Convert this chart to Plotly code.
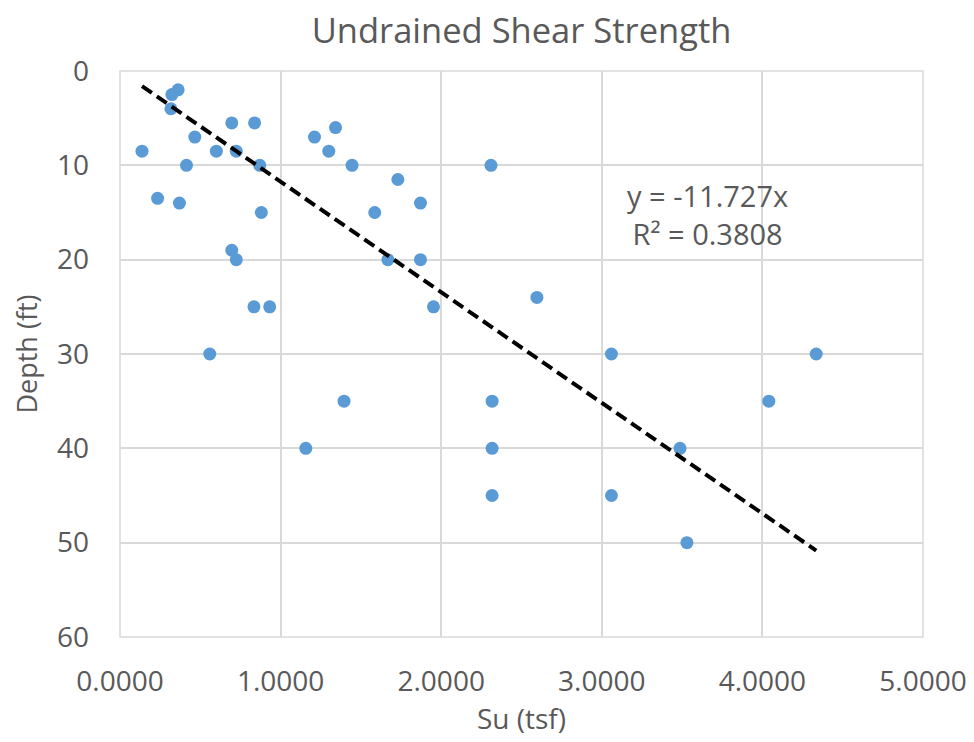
import plotly.graph_objects as go

su_tsf = [0.362, 0.323, 0.317, 0.696, 0.838, 0.466, 0.137, 0.600, 0.724, 0.414,
          0.870, 1.211, 1.342, 1.300, 1.445, 1.730, 0.234, 0.370, 0.880, 1.586,
          1.871, 0.696, 0.724, 1.668, 1.871, 0.834, 0.932, 1.952, 0.559, 1.395,
          1.157, 2.317, 2.317, 2.317, 2.310, 2.596, 3.060, 4.335, 4.040, 3.487,
          3.060, 3.530]
depth_ft = [2.0, 2.5, 4.0, 5.5, 5.5, 7.0, 8.5, 8.5, 8.5, 10.0,
            10.0, 7.0, 6.0, 8.5, 10.0, 11.5, 13.5, 14.0, 15.0, 15.0,
            14.0, 19.0, 20.0, 20.0, 20.0, 25.0, 25.0, 25.0, 30.0, 35.0,
            40.0, 35.0, 40.0, 45.0, 10.0, 24.0, 30.0, 30.0, 35.0, 40.0,
            45.0, 50.0]
trend_slope = -11.727
r_squared = 0.3808
x_ticks = [0, 1, 2, 3, 4, 5]
y_ticks = [0, 10, 20, 30, 40, 50, 60]

x_fit = [min(su_tsf), max(su_tsf)]
y_fit = [-trend_slope * v for v in x_fit]

FONT = "Open Sans, Noto Sans, sans-serif"
GRAY = "#595959"
GRID = "#d9d9d9"

# page body has an 8px margin; size the figure to fit the window
W, H = 966, 734

fig = go.Figure()
fig.add_trace(go.Scatter(
    x=su_tsf, y=depth_ft, mode="markers",
    marker=dict(size=13, color="#5b9bd5"),
    showlegend=False, hoverinfo="x+y"))
fig.add_trace(go.Scatter(
    x=x_fit, y=y_fit, mode="lines",
    line=dict(color="black", width=4, dash="12px,6px"),
    showlegend=False, hoverinfo="skip"))

fig.add_annotation(
    x=3.66, y=15.2, xref="x", yref="y",
    text=f"y = {trend_slope}x<br>R² = {r_squared}",
    showarrow=False, font=dict(family=FONT, size=29, color=GRAY),
    align="center")

fig.update_layout(
    width=W, height=H,
    margin=dict(l=112, r=51, t=63, b=105),
    paper_bgcolor="white", plot_bgcolor="white",
    title=dict(text="Undrained Shear Strength", x=0.5, xref="paper",
               y=1 - 23 / H, yref="container", yanchor="middle",
               font=dict(family=FONT, size=34.5, color=GRAY)),
    xaxis=dict(range=[0, 5], tickvals=x_ticks, tickformat=".4f",
               automargin=False, ticklabeloverflow="allow",
               showgrid=True, gridcolor=GRID, gridwidth=1.5,
               zeroline=False, showline=False, ticks="",
               ticklabelstandoff=25,
               tickfont=dict(family=FONT, size=28, color=GRAY),
               title=dict(text="Su (tsf)", standoff=9,
                          font=dict(family=FONT, size=28, color=GRAY))),
    yaxis=dict(range=[60, 0], tickvals=y_ticks,
               automargin=False, ticklabeloverflow="allow",
               showgrid=True, gridcolor=GRID, gridwidth=1.5,
               zeroline=False, showline=False, ticks="",
               ticklabelstandoff=30,
               tickfont=dict(family=FONT, size=28, color=GRAY),
               title=dict(text="Depth (ft)", standoff=22,
                          font=dict(family=FONT, size=27, color=GRAY))),
)
fig.add_shape(type="rect", xref="paper", yref="paper", x0=0, y0=0, x1=1, y1=1,
              line=dict(color=GRID, width=1.5), layer="below")

fig.write_html("out.html")
